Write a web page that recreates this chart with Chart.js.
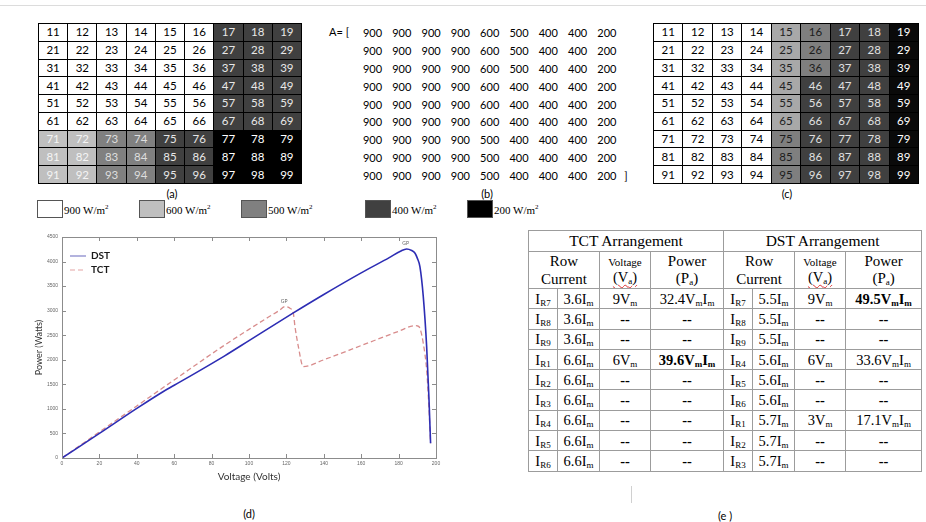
<!DOCTYPE html>
<html><head><meta charset="utf-8">
<script src="https://cdn.jsdelivr.net/npm/chart.js@4.4.1/dist/chart.umd.min.js"></script>
<style>
body{margin:0;width:926px;height:522px;position:relative;background:#fff;overflow:hidden;font-family:Lato,"Liberation Sans",sans-serif;color:#000;}
.abs{position:absolute;}
table.grid{border-collapse:collapse;table-layout:fixed;position:absolute;}
table.grid td{border:1px solid #000;text-align:center;padding:0;font-size:11.5px;line-height:14px;overflow:hidden;}
.lbl{position:absolute;font-size:11px;transform:translate(-50%,-50%);white-space:nowrap;}
.mat{position:absolute;font-size:11px;transform:translate(-50%,-50%);}
.legbox{position:absolute;top:0;width:26px;height:18px;border:1px solid #555;box-sizing:border-box;}
.legtxt{position:absolute;top:4px;font-family:"Liberation Serif",serif;font-size:11px;white-space:nowrap;}
table.res{position:absolute;left:528px;top:230px;border-collapse:collapse;table-layout:fixed;font-family:"Liberation Serif",serif;}
table.res td{border:1px solid #9c9c9c;text-align:center;padding:0;font-size:14.5px;line-height:16px;white-space:nowrap;overflow:hidden;}
table.res sub{font-size:9px;vertical-align:-2px;line-height:0;}
.sq{text-decoration:underline wavy #d33;text-decoration-thickness:1px;text-underline-offset:2px;}
</style></head>
<body>
<div class="abs" style="left:0;top:5px;width:926px;height:1px;background:#dcdcdc"></div>
<div id="root"></div>
<div class="abs" style="left:30px;top:228px;width:430px;height:258px"><canvas id="c" width="430" height="258"></canvas></div>
<div class="lbl" style="left:249px;top:513px">(d)</div>
<div class="lbl" style="left:725px;top:515px">(e )</div>
<div class="abs" style="left:631px;top:486px;width:1px;height:17px;background:#d0d0d0"></div>
<script>
// ---------- data ----------
const gridRows = [1,2,3,4,5,6,7,8,9];
const gridCols = [1,2,3,4,5,6,7,8,9];
const irrA = [
 [900,900,900,900,900,900,400,400,400],
 [900,900,900,900,900,900,400,400,400],
 [900,900,900,900,900,900,400,400,400],
 [900,900,900,900,900,900,400,400,400],
 [900,900,900,900,900,900,400,400,400],
 [900,900,900,900,900,900,400,400,400],
 [600,600,500,500,400,400,200,200,200],
 [600,600,500,500,400,400,200,200,200],
 [600,600,500,500,400,400,200,200,200]];
const irrB = [
 [900,900,900,900,600,500,400,400,200],
 [900,900,900,900,600,500,400,400,200],
 [900,900,900,900,600,500,400,400,200],
 [900,900,900,900,600,400,400,400,200],
 [900,900,900,900,600,400,400,400,200],
 [900,900,900,900,600,400,400,400,200],
 [900,900,900,900,500,400,400,400,200],
 [900,900,900,900,500,400,400,400,200],
 [900,900,900,900,500,400,400,400,200]];
const irrLevels = [900,600,500,400,200];

const dstVolt  = [0,20,40,54,60,87,100,123.5,140,160,175,181,184.3,187,188.8,190,191.4,193.2,195,196.2,197.1];
const dstPower = [0,500,1010,1350,1480,2080,2390,2950,3330,3770,4080,4210,4257,4225,4170,4070,3896,3286,2267,1249,300];
const tctVolt  = [0,20,40,60,87,100,110,116,119.3,121.9,123.7,124.6,126.4,129,140,160,180,188.8,190,191.4,193.2,195,196.2,197.1];
const tctPower = [0,530,1060,1590,2300,2620,2860,3000,3082,3048,2947,2674,2267,1860,2000,2290,2580,2695,2690,2641,2336,1792,1045,300];
const gpVolt  = [119.3,184.3];
const gpPower = [3082,4257];

const tctRows = [
 ['R7','3.6','9V','32.4',false],['R8','3.6','--','--',false],['R9','3.6','--','--',false],
 ['R1','6.6','6V','39.6',true],['R2','6.6','--','--',false],['R3','6.6','--','--',false],
 ['R4','6.6','--','--',false],['R5','6.6','--','--',false],['R6','6.6','--','--',false]];
const dstRows = [
 ['R7','5.5','9V','49.5',true],['R8','5.5','--','--',false],['R9','5.5','--','--',false],
 ['R4','5.6','6V','33.6',false],['R5','5.6','--','--',false],['R6','5.6','--','--',false],
 ['R1','5.7','3V','17.1',false],['R2','5.7','--','--',false],['R3','5.7','--','--',false]];

// ---------- styles ----------
const shadeA = {900:['#ffffff','#000'],600:['#bfbfbf','#f4f4f4'],500:['#808080','#dedede'],400:['#404040','#e8e8e8'],200:['#000000','#ffffff']};
const shadeC = {900:['#ffffff','#000'],600:['#a8a8a8','#222'],500:['#7f7f7f','#1c1c1c'],400:['#404040','#e0e0e0'],200:['#0a0a0a','#ffffff']};
const root = document.getElementById('root');

function makeGrid(mat, shade, left, top, w, h){
  const t = document.createElement('table'); t.className='grid';
  t.style.left=left+'px'; t.style.top=top+'px'; t.style.width=w+'px'; t.style.height=h+'px';
  gridRows.forEach((r,i)=>{
    const tr=document.createElement('tr'); tr.style.height=(h/9)+'px';
    gridCols.forEach((c,j)=>{
      const td=document.createElement('td');
      const s=shade[mat[i][j]];
      td.style.background=s[0]; td.style.color=s[1];
      td.textContent=''+r+c; tr.appendChild(td);
    });
    t.appendChild(tr);
  });
  root.appendChild(t);
}
makeGrid(irrA, shadeA, 38, 23, 264, 160);
makeGrid(irrB, shadeC, 653, 23, 266, 160);

function addLbl(txt,x,y){const d=document.createElement('div');d.className='lbl';d.style.left=x+'px';d.style.top=y+'px';d.textContent=txt;root.appendChild(d);}
addLbl('(a)',172,193); addLbl('(b)',487,193); addLbl('(c)',787,193);

// matrix (b)
(function(){
  const a=document.createElement('div');a.className='abs';a.style.left='329px';a.style.top='25px';a.style.fontSize='11px';a.textContent='A= [';root.appendChild(a);
  irrB.forEach((row,i)=>row.forEach((v,j)=>{
    const d=document.createElement('div');d.className='mat';
    d.style.left=(372.5+29.3*j)+'px';d.style.top=(32.3+17.8*i)+'px';d.textContent=v;root.appendChild(d);
  }));
  const b=document.createElement('div');b.className='mat';b.style.left='626px';b.style.top='174.5px';b.textContent=']';root.appendChild(b);
})();

// irradiance legend
(function(){
  const fills={900:'#ffffff',600:'#bfbfbf',500:'#808080',400:'#404040',200:'#000000'};
  const xs=[37,139,241,365,467];
  irrLevels.forEach((lv,k)=>{
    const bx=document.createElement('div');bx.className='legbox';bx.style.left=xs[k]+'px';bx.style.top='200px';bx.style.background=fills[lv];root.appendChild(bx);
    const t=document.createElement('div');t.className='legtxt';t.style.left=(xs[k]+27)+'px';t.style.top='203px';
    t.innerHTML=lv+' W/m<sup style="font-size:7px">2</sup>';root.appendChild(t);
  });
})();

// results table (e)
(function(){
  const widths=[29,42,51,73,29,42,51,76];
  const t=document.createElement('table');t.className='res';
  t.style.width=widths.reduce((a,b)=>a+b,0)+'px';
  const cg=document.createElement('colgroup');widths.forEach(w=>{const c=document.createElement('col');c.style.width=w+'px';cg.appendChild(c);});t.appendChild(cg);
  let html='<tr style="height:21px"><td colspan="4" style="font-size:15.5px">TCT Arrangement</td><td colspan="4" style="font-size:15.5px">DST Arrangement</td></tr>';
  const hdr='<td colspan="2" style="font-size:15px;line-height:18px">Row<br>Current</td><td style="line-height:15px;vertical-align:top;padding-top:2px"><span style="font-size:11px">Voltage</span><br><span class="sq">(V<sub>a</sub>)</span></td><td style="font-size:15px;line-height:17px">Power<br>(P<sub>a</sub>)</td>';
  html+='<tr style="height:36px">'+hdr+hdr+'</tr>';
  function cells(r){
    const v = r[2]==='--' ? '<b>--</b>' : r[2].slice(0,-1)+'V<sub>m</sub>';
    let p = r[3]==='--' ? '<b>--</b>' : r[3]+'V<sub>m</sub>I<sub>m</sub>';
    if(r[4]) p='<b>'+p+'</b>';
    return '<td>I<sub>'+r[0]+'</sub></td><td>'+r[1]+'I<sub>m</sub></td><td>'+v+'</td><td>'+p+'</td>';
  }
  tctRows.forEach((r,i)=>{html+='<tr style="height:20.3px">'+cells(r)+cells(dstRows[i])+'</tr>';});
  t.innerHTML+=html;
  root.appendChild(t);
})();

// ---------- chart (d) ----------
const decor = {
  id:'decor',
  afterDatasetsDraw(chart){
    const {ctx, chartArea:a, scales:{x,y}} = chart;
    ctx.save();
    ctx.strokeStyle='#8c8c8c'; ctx.lineWidth=1;
    ctx.strokeRect(Math.round(a.left)+.5, Math.round(a.top)+.5, Math.round(a.right-a.left), Math.round(a.bottom-a.top));
    ctx.beginPath();
    x.ticks.forEach(t=>{const p=Math.round(x.getPixelForValue(t.value))+.5; ctx.moveTo(p,a.bottom); ctx.lineTo(p,a.bottom-4); ctx.moveTo(p,a.top); ctx.lineTo(p,a.top+4);});
    y.ticks.forEach(t=>{const p=Math.round(y.getPixelForValue(t.value))+.5; ctx.moveTo(a.left,p); ctx.lineTo(a.left+4,p); ctx.moveTo(a.right,p); ctx.lineTo(a.right-4,p);});
    ctx.stroke();
    // GP labels
    ctx.fillStyle='#666'; ctx.font='5px Lato, sans-serif'; ctx.textAlign='center'; ctx.textBaseline='bottom';
    gpVolt.forEach((v,i)=>{ctx.fillText('GP', x.getPixelForValue(v)-1, y.getPixelForValue(gpPower[i])-3);});
    // legend
    ctx.textAlign='left'; ctx.textBaseline='middle'; ctx.font='bold 10px Lato, sans-serif';
    chart.data.datasets.forEach((ds,i)=>{
      const ly=a.top+19+i*14;
      ctx.beginPath(); ctx.strokeStyle=ds.legendColor; ctx.lineWidth=1.2; ctx.setLineDash(ds.borderDash||[]);
      ctx.moveTo(a.left+8,ly); ctx.lineTo(a.left+24,ly); ctx.stroke(); ctx.setLineDash([]);
      ctx.fillStyle='#1a1a1a'; ctx.fillText(ds.label, a.left+29, ly);
    });
    ctx.restore();
  }
};
const pts=(xs,ys)=>xs.map((v,i)=>({x:v,y:ys[i]}));
new Chart(document.getElementById('c'),{
  type:'line',
  data:{datasets:[
    {label:'DST',data:pts(dstVolt,dstPower),borderColor:'#2d2db4',legendColor:'#8080c8',borderWidth:1.6,pointRadius:0,cubicInterpolationMode:'monotone',fill:false},
    {label:'TCT',data:pts(tctVolt,tctPower),borderColor:'#d88c8c',legendColor:'#e3a3a3',borderWidth:1.3,borderDash:[5,3],pointRadius:0,cubicInterpolationMode:'monotone',fill:false}
  ]},
  options:{
    animation:false,responsive:false,maintainAspectRatio:false,
    layout:{padding:{top:9,right:24,left:0,bottom:0}},
    plugins:{legend:{display:false},tooltip:{enabled:false}},
    scales:{
      x:{type:'linear',min:0,max:200,
         ticks:{stepSize:20,font:{size:5},color:'#666',padding:3,maxRotation:0,callback:v=>String(v)},
         grid:{display:false,drawTicks:false},border:{display:false},
         title:{display:true,text:'Voltage (Volts)',font:{size:10,family:'Lato'},color:'#333',padding:{top:2,bottom:3}},
         afterFit:s=>{s.height=28;}},
      y:{type:'linear',min:0,max:4500,
         ticks:{stepSize:500,font:{size:5},color:'#666',padding:4,callback:v=>String(v)},
         grid:{display:false,drawTicks:false},border:{display:false},
         title:{display:true,text:'Power (Watts)',font:{size:9,family:'Lato'},color:'#333',padding:{top:4,bottom:2}},
         afterFit:s=>{s.width=32;}}
    }
  },
  plugins:[decor]
});
</script>
</body></html>
